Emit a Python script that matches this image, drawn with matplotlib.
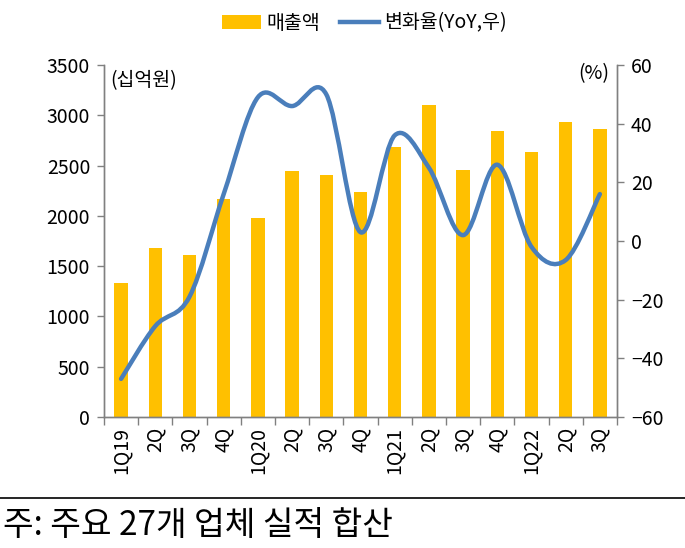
import matplotlib
matplotlib.use('Agg')
import matplotlib.pyplot as plt
import numpy as np
from matplotlib.path import Path
from matplotlib.patches import PathPatch, Patch
from matplotlib.lines import Line2D

plt.rcParams['font.family'] = ['Noto Sans CJK KR', 'DejaVu Sans']

quarters = ['1Q19', '2Q', '3Q', '4Q', '1Q20', '2Q', '3Q', '4Q',
            '1Q21', '2Q', '3Q', '4Q', '1Q22', '2Q', '3Q']
sales = [1330, 1680, 1610, 2170, 1980, 2450, 2410, 2240,
         2680, 3100, 2460, 2840, 2630, 2930, 2860]
yoy = [-47, -29, -19, 16, 49, 46, 50, 3, 36, 25, 2, 26, -2, -6.5, 16]

bar_color = '#FFC000'
line_color = '#4A7EBB'
axis_color = '#808080'


def smooth_path(xs, ys):
    # Bezier segments through the points, like a smoothed Excel line
    pts = np.column_stack([xs, ys]).astype(float)
    n = len(pts)
    verts = [pts[0]]
    codes = [Path.MOVETO]
    for i in range(n - 1):
        p0 = pts[i - 1] if i > 0 else pts[i]
        p1 = pts[i]
        p2 = pts[i + 1]
        p3 = pts[i + 2] if i + 2 < n else pts[i + 1]
        c1 = p1 + (p2 - p0) / 6.0
        c2 = p2 - (p3 - p1) / 6.0
        verts += [c1, c2, p2]
        codes += [Path.CURVE4] * 3
    return Path(verts, codes)


fig = plt.figure(figsize=(6.85, 5.48), dpi=100)
ax = fig.add_axes([0.1518, 0.239, 0.7489, 0.6424])
ax2 = ax.twinx()

x = np.arange(len(quarters))
ax.bar(x, sales, width=0.39, color=bar_color, zorder=2)
ax.set_xlim(-0.5, len(quarters) - 0.5)
ax.set_ylim(0, 3500)
ax.set_yticks(np.arange(0, 3501, 500))

ax2.set_ylim(-60, 60)
ax2.set_yticks(np.arange(-60, 61, 20))
ax2.set_yticklabels([str(v).replace('-', '\u2212') for v in range(-60, 61, 20)])
patch = PathPatch(smooth_path(x, yoy), facecolor='none', edgecolor=line_color,
                  lw=3.2, capstyle='round', joinstyle='round', zorder=3)
ax2.add_patch(patch)

for a in (ax, ax2):
    a.spines['top'].set_visible(False)
    for s in ('left', 'right', 'bottom'):
        a.spines[s].set_color(axis_color)
        a.spines[s].set_linewidth(1.0)
    a.tick_params(axis='y', colors=axis_color, labelcolor='black',
                  labelsize=14, length=5, width=1, pad=5)

ax.set_xticks(x)
ax.set_xticklabels(quarters, rotation=90, fontsize=14)
ax.tick_params(axis='x', length=0, pad=7)
ax.set_xticks(np.arange(-0.5, len(quarters), 1), minor=True)
ax.tick_params(axis='x', which='minor', length=6, width=1, colors=axis_color)

ax.text(0.012, 0.955, '(십억원)', transform=ax.transAxes, fontsize=14,
        ha='left', va='center')
ax2.text(0.985, 0.975, '(%)', transform=ax.transAxes, fontsize=14,
         ha='right', va='center')

handles = [Patch(facecolor=bar_color, edgecolor='none'),
           Line2D([0], [0], color=line_color, lw=3.2)]
fig.legend(handles, ['매출액', '변화율(YoY,우)'], loc='center',
           bbox_to_anchor=(0.532, 0.958), ncol=2, frameon=False, fontsize=14,
           handlelength=2.0, handletextpad=0.3, columnspacing=1.0)

fig.add_artist(Line2D([0, 1], [1 - 498 / 548, 1 - 498 / 548],
                      transform=fig.transFigure, color='black', lw=1.2))
fig.text(0.005, 1 - 526 / 548, '주: 주요 27개 업체 실적 합산', fontsize=24,
         ha='left', va='center')

fig.savefig('out.png', dpi=100)
